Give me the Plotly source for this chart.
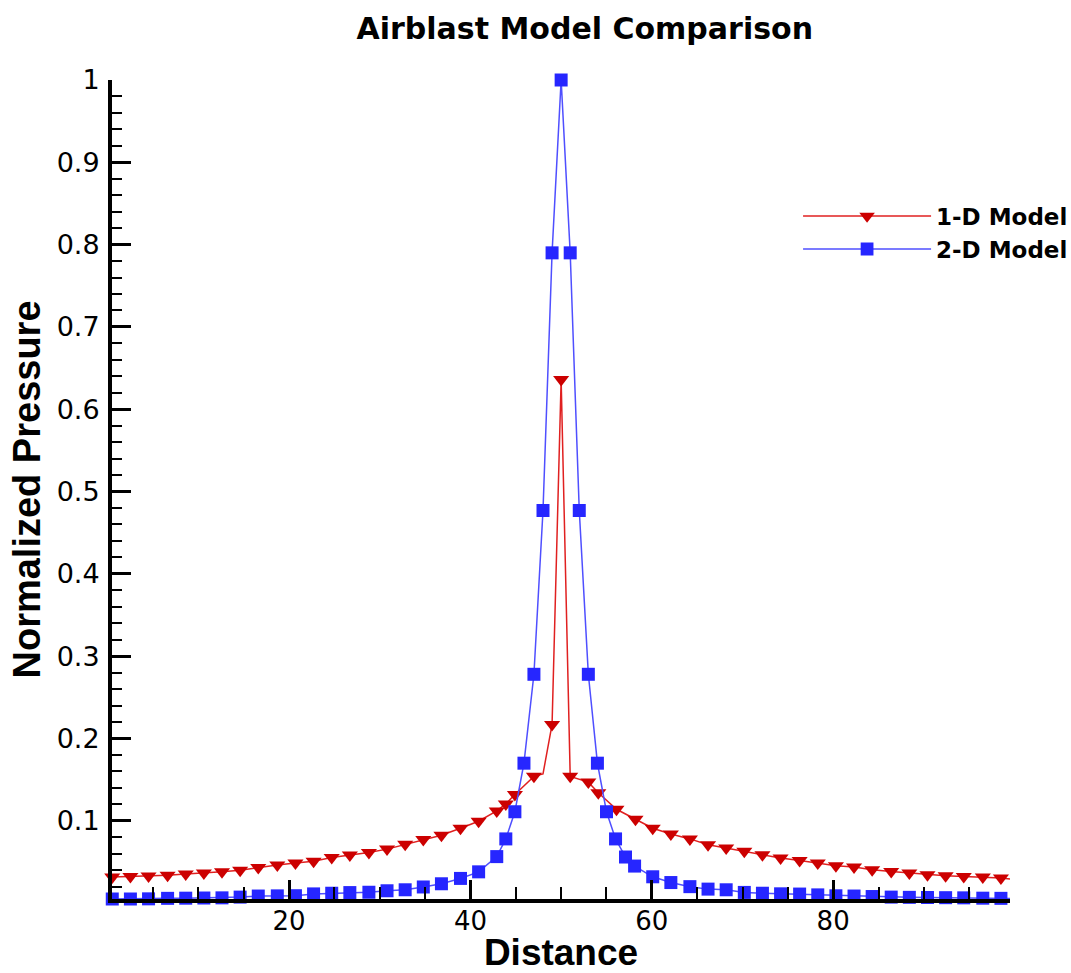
import plotly.graph_objects as go

# ---------------- data ----------------
# 1-D model: points carrying a symbol
x_1d = [0.5, 2.5, 4.5, 6.6, 8.6, 10.6, 12.6, 14.6, 16.6, 18.7, 20.7, 22.7, 24.7, 26.7,
        28.8, 30.8, 32.8, 34.8, 36.8, 38.9, 40.9, 42.9, 43.9, 44.9, 47.0, 49.0, 50.0,
        51.0, 53.0, 54.1, 56.1, 58.2, 60.1, 62.1, 64.2, 66.2, 68.2, 70.2, 72.2, 74.2,
        76.3, 78.3, 80.3, 82.3, 84.3, 86.4, 88.4, 90.4, 92.4, 94.4, 96.5, 98.5]
y_1d = [0.0316, 0.0322, 0.0330, 0.0340, 0.0354, 0.0365, 0.0380, 0.0400, 0.0432, 0.0462,
        0.0488, 0.0510, 0.0555, 0.0585, 0.0615, 0.0656, 0.0715, 0.0772, 0.0825, 0.0910,
        0.0995, 0.1120, 0.1205, 0.1320, 0.1540, 0.2170, 0.6360, 0.1540, 0.1470, 0.1340,
        0.1140, 0.1020, 0.0910, 0.0840, 0.0780, 0.0710, 0.0670, 0.0630, 0.0587, 0.0547,
        0.0518, 0.0486, 0.0453, 0.0438, 0.0405, 0.0384, 0.0365, 0.0344, 0.0332, 0.0324,
        0.0316, 0.0304]
# 1-D model: line vertices without a symbol
x_1d_plain = [48.0, 99.5]
y_1d_plain = [0.157, 0.0292]

# 2-D model: points carrying a symbol
x_2d = [0.5, 2.5, 4.5, 6.6, 8.6, 10.6, 12.6, 14.6, 16.6, 18.7, 20.7, 22.7, 24.7, 26.7,
        28.8, 30.8, 32.8, 34.8, 36.8, 38.9, 40.9, 42.9, 43.9, 44.9, 45.9, 47.0, 48.0,
        49.0, 50.0, 51.0, 52.0, 53.0, 54.0, 55.0, 56.0, 57.1, 58.1, 60.1, 62.1, 64.2,
        66.2, 68.2, 70.2, 72.2, 74.2, 76.3, 78.3, 80.3, 82.3, 84.3, 86.4, 88.4, 90.4,
        92.4, 94.4, 96.5, 98.5]
y_2d = [0.0050, 0.0050, 0.0052, 0.0058, 0.0060, 0.0062, 0.0064, 0.0073, 0.0086, 0.0088,
        0.0090, 0.0112, 0.0120, 0.0128, 0.0132, 0.0150, 0.0162, 0.0196, 0.0235, 0.0300,
        0.0380, 0.0565, 0.0780, 0.1110, 0.1700, 0.2780, 0.4770, 0.7900, 1.0000, 0.7900,
        0.4770, 0.2780, 0.1700, 0.1110, 0.0780, 0.0560, 0.0450, 0.0320, 0.0250, 0.0200,
        0.0170, 0.0162, 0.0130, 0.0120, 0.0113, 0.0110, 0.0100, 0.0089, 0.0086, 0.0080,
        0.0073, 0.0070, 0.0068, 0.0066, 0.0064, 0.0060, 0.0058]
# 2-D model: line vertices without a symbol
x_2d_plain = [99.5]
y_2d_plain = [0.0056]

series_names = ["1-D Model", "2-D Model"]
x_ticks = [20, 40, 60, 80]
y_ticks = [0.1, 0.2, 0.3, 0.4, 0.5, 0.6, 0.7, 0.8, 0.9, 1]
title_text = "Airblast Model Comparison"
x_title = "Distance"
y_title = "Normalized Pressure"

# ---------------- styling ----------------
FONT = "Liberation Sans, Arial, Helvetica, sans-serif"
WIDE = "DejaVu Sans, Verdana, sans-serif"
RED = "#CC0000"
RED_LINE = "#E02020"
BLUE = "#2626FF"
BLUE_LINE = "#4F4FFF"


def merged(xs, ys, xp, yp, size):
    pts = [(x, y, size) for x, y in zip(xs, ys)] + [(x, y, 0) for x, y in zip(xp, yp)]
    pts.sort(key=lambda p: p[0])
    return [p[0] for p in pts], [p[1] for p in pts], [p[2] for p in pts]


fig = go.Figure()

xa, ya, sa = merged(x_1d, y_1d, x_1d_plain, y_1d_plain, 14)
fig.add_trace(go.Scatter(
    x=xa, y=ya, name=series_names[0], mode="lines+markers",
    line=dict(color=RED_LINE, width=1.5),
    marker=dict(symbol="triangle-down", size=sa, color=RED, opacity=1, line=dict(width=0)),
    cliponaxis=False,
))

xb, yb, sb = merged(x_2d, y_2d, x_2d_plain, y_2d_plain, 13)
fig.add_trace(go.Scatter(
    x=xb, y=yb, name=series_names[1], mode="lines+markers",
    line=dict(color=BLUE_LINE, width=1.5),
    marker=dict(symbol="square", size=sb, color=BLUE, opacity=1, line=dict(width=0)),
    cliponaxis=False,
))

axis_common = dict(
    showline=True, linewidth=4, linecolor="black", mirror=False,
    showgrid=False, zeroline=False,
    ticks="inside", ticklen=19, tickwidth=3, tickcolor="black",
)

fig.update_xaxes(
    **axis_common,
    range=[0.47, 99.5],
    tickvals=x_ticks,
    tickfont=dict(family=WIDE, size=26, color="black"),
    ticklabelstandoff=-4,
    minor=dict(ticks="inside", ticklen=12, tickwidth=2, tickcolor="black", dtick=5, tick0=0),
    title=dict(text=x_title, font=dict(family=FONT, size=37, color="black", weight="bold"),
               standoff=2),
    automargin=False,
)
fig.update_yaxes(
    **axis_common,
    range=[0.005, 1.0],
    tickvals=y_ticks,
    ticktext=[("%g" % v) for v in y_ticks],
    tickfont=dict(family=WIDE, size=27, color="black"),
    ticklabelstandoff=3,
    minor=dict(ticks="inside", ticklen=10, tickwidth=2, tickcolor="black", dtick=0.02, tick0=0),
    title=dict(text=y_title, font=dict(family=FONT, size=38, color="black", weight="bold"),
               standoff=5),
    automargin=False,
)

fig.update_layout(
    width=1071, height=973,
    margin=dict(l=112, r=61, t=80, b=74, autoexpand=False),
    paper_bgcolor="white", plot_bgcolor="white",
    title=dict(text=title_text, x=0.546, xref="container", xanchor="center",
               y=0.971, yref="container", yanchor="middle",
               font=dict(family=WIDE, size=30, color="black", weight="bold")),
    legend=dict(
        x=0.764, y=0.86, xanchor="left", yanchor="top", xref="paper", yref="paper",
        bgcolor="rgba(0,0,0,0)", borderwidth=0,
        font=dict(family=WIDE, size=23, color="black", weight="bold"),
        itemsizing="trace", itemwidth=128,
    ),
    showlegend=True,
)

fig.write_html("out.html", config={"displayModeBar": False},
               post_script="document.body.style.margin='0px';")
